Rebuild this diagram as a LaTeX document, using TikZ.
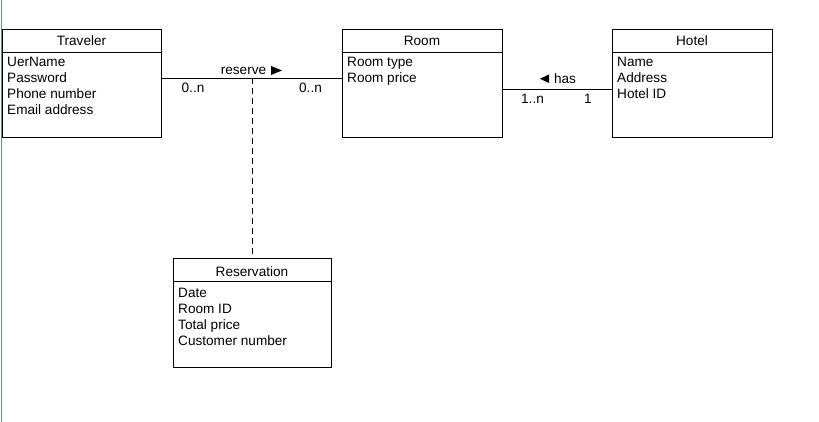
\documentclass[tikz,border=0pt]{standalone}
\usepackage{fontspec}
\setmainfont{Liberation Sans}
\begin{document}
\begin{tikzpicture}[x=1pt,y=-1pt,
  box/.style={draw=black,line width=0.8pt},
  txt/.style={font=\fontsize{13.6}{15}\selectfont,inner sep=0pt,anchor=base west},
  ttl/.style={font=\fontsize{13.6}{15}\selectfont,inner sep=0pt,anchor=base},
  lbl/.style={font=\fontsize{13.6}{15}\selectfont,inner sep=0pt,anchor=base}]
\useasboundingbox (0,0) rectangle (819,422);
\fill[white] (0,0) rectangle (819,422);
\draw[color={rgb,255:red,110;green,130;blue,150},line width=0.8pt] (1,0) -- (1,422);
% Traveler
\node[box,minimum width=159pt,minimum height=108pt,anchor=north west,inner sep=0pt] (trav) at (2,29) {};
\draw[line width=0.8pt] (2,52) -- (161,52);
\node[ttl] (travt) at (81.5,46) {Traveler};
\node[txt] (t1) at (7,67) {UerName};
\node[txt] (t2) at (7,83) {Password};
\node[txt] (t3) at (7,99) {Phone number};
\node[txt] (t4) at (7,115) {Email address};
% Room
\node[box,minimum width=160pt,minimum height=108pt,anchor=north west,inner sep=0pt] (room) at (342,29) {};
\draw[line width=0.8pt] (342,52) -- (502,52);
\node[ttl] (roomt) at (422,46) {Room};
\node[txt] (r1) at (347,67) {Room type};
\node[txt] (r2) at (347,83) {Room price};
% Hotel
\node[box,minimum width=160pt,minimum height=108pt,anchor=north west,inner sep=0pt] (hotel) at (612,29) {};
\draw[line width=0.8pt] (612,52) -- (772,52);
\node[ttl] (hotelt) at (692,46) {Hotel};
\node[txt] (h1) at (617,67) {Name};
\node[txt] (h2) at (617,83) {Address};
\node[txt] (h3) at (617,99) {Hotel ID};
% Reservation
\node[box,minimum width=158pt,minimum height=109pt,anchor=north west,inner sep=0pt] (res) at (173,258) {};
\draw[line width=0.8pt] (173,281) -- (331,281);
\node[ttl] (rest) at (252,276) {Reservation};
\node[txt] (s1) at (178,297) {Date};
\node[txt] (s2) at (178,313) {Room ID};
\node[txt] (s3) at (178,329) {Total price};
\node[txt] (s4) at (178,345) {Customer number};
% reserve association
\coordinate (ra) at (161,78);
\coordinate (rb) at (342,78);
\draw[line width=0.8pt] (ra) -- (rb);
\coordinate (dm) at (252,78);
\draw[line width=0.8pt,dash pattern=on 6pt off 4pt] (dm) -- (res.north -| dm);
\node[lbl] (reslbl) at (243.5,75) {reserve};
\fill (271,66) -- (282,70.5) -- (271,75) -- cycle;
\node[lbl] (m1) at (193,93) {0..n};
\node[lbl] (m2) at (310.5,93) {0..n};
% has association
\coordinate (ha) at (502,89);
\coordinate (hb) at (612,89);
\draw[line width=0.8pt] (ha) -- (hb);
\fill (549,74.5) -- (540,78.8) -- (549,83) -- cycle;
\node[lbl] (haslbl) at (565,83.5) {has};
\node[lbl] (m3) at (532.5,103.5) {1..n};
\node[lbl] (m4) at (588,103.5) {1};
\end{tikzpicture}
\end{document}
